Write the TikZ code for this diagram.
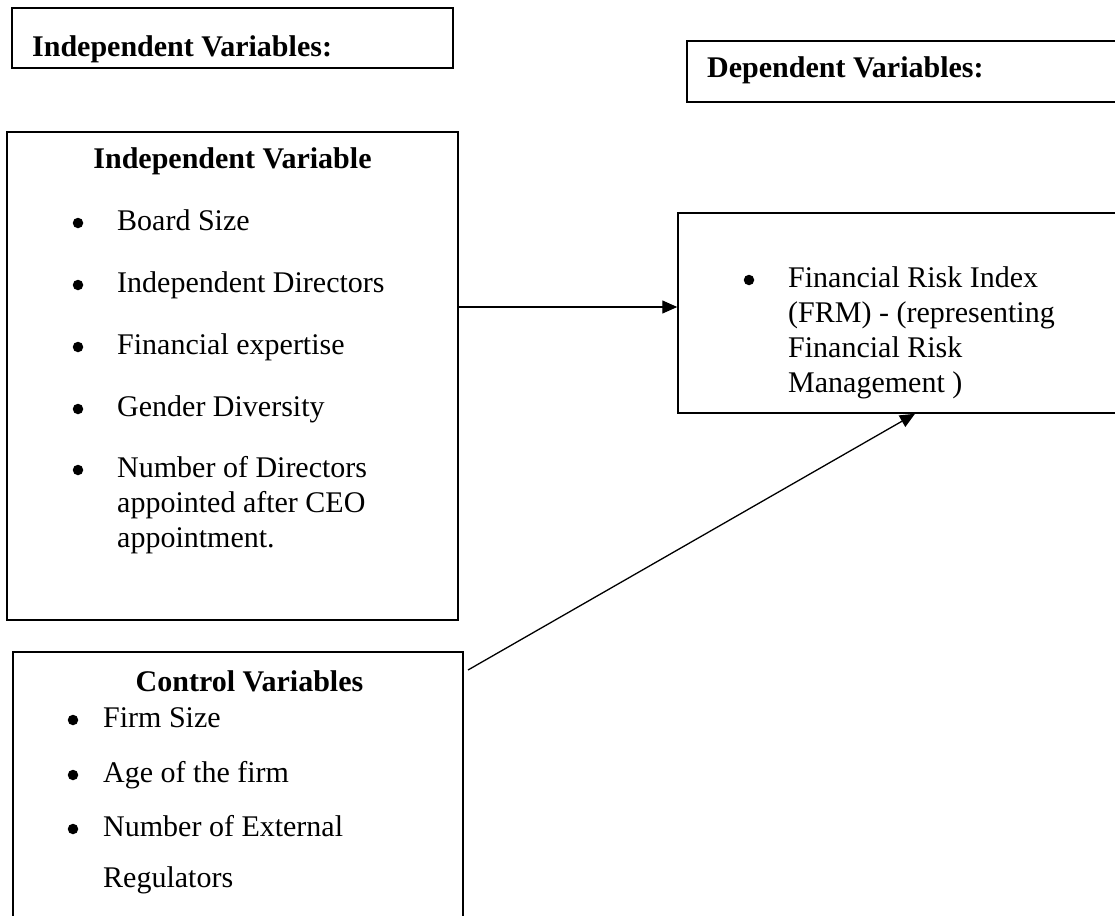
\documentclass[tikz,border=0pt]{standalone}
\usepackage{fontspec}
\setmainfont{Liberation Serif}
\usetikzlibrary{arrows.meta,calc}
\begin{document}
\begin{tikzpicture}[x=1pt,y=-1pt,
  box/.style={draw,line width=1.5pt,inner sep=0pt,rectangle},
  txt/.style={inner sep=0pt,anchor=base west,font=\fontsize{30}{35}\selectfont},
  hdl/.style={inner sep=0pt,anchor=base west,font=\fontsize{30}{35}\selectfont\bfseries},
  hd/.style={inner sep=0pt,anchor=base,font=\fontsize{30}{35}\selectfont\bfseries},
  dot/.style={circle,fill=black,inner sep=0pt,minimum size=10.5pt},
  arr/.style={line width=1.3pt,-{Triangle[length=15pt,width=13pt]}}]
\clip (0,0) rectangle (1115,915);
\fill[white] (0,0) rectangle (1115,915);
% title boxes
\node[box,minimum width=441pt,minimum height=60pt] (b1) at (232.5,38) {};
\node[hdl] (b1t) at (32,57) {Independent Variables:};
\node[box,minimum width=443pt,minimum height=61pt] (b2) at (908.5,71.5) {};
\node[hdl] (b2t) at (707,78) {Dependent Variables:};
% independent variable box
\node[box,minimum width=451pt,minimum height=488pt] (iv) at (232.5,376) {};
\node[hd] (ivh) at (232.5,168) {Independent Variable};
\node[dot] (ivb1) at (78,223) {};
\node[dot] (ivb2) at (78,285) {};
\node[dot] (ivb3) at (78,347) {};
\node[dot] (ivb4) at (78,409) {};
\node[dot] (ivb5) at (78,470) {};
\node[txt] (iv1) at (117,230) {Board Size};
\node[txt] (iv2) at (117,292) {Independent Directors};
\node[txt] (iv3) at (117,354) {Financial expertise};
\node[txt] (iv4) at (117,416) {Gender Diversity};
\node[txt] (iv5a) at (117,477) {Number of Directors};
\node[txt] (iv5b) at (117,512) {appointed after CEO};
\node[txt] (iv5c) at (117,547) {appointment.};
% dependent variable box
\node[box,minimum width=452pt,minimum height=200pt] (frm) at (904,313) {};
\node[dot] (frmb) at (749,280) {};
\node[txt] (frm1) at (788,287) {Financial Risk Index};
\node[txt] (frm2) at (788,322) {(FRM) - (representing};
\node[txt] (frm3) at (788,357) {Financial Risk};
\node[txt] (frm4) at (788,392) {Management )};
% control variables box
\node[box,minimum width=450pt,minimum height=290pt] (cv) at (238,797) {};
\node[hd] (cvh) at (249.5,691) {Control Variables};
\node[dot] (cvb1) at (73,720) {};
\node[dot] (cvb2) at (73,775) {};
\node[dot] (cvb3) at (73,829) {};
\node[txt] (cv1) at (103,727) {Firm Size};
\node[txt] (cv2) at (103,782) {Age of the firm};
\node[txt] (cv3a) at (103,836) {Number of External};
\node[txt] (cv3b) at (103,887) {Regulators};
% connectors
\coordinate (h) at (0,307);
\draw[arr] (iv.east |- h) -- (frm.west |- h);
\coordinate (cs) at (468,670);
\coordinate (ce) at (915,0);
\draw[arr] (cs) -- (frm.south -| ce);
\end{tikzpicture}
\end{document}
